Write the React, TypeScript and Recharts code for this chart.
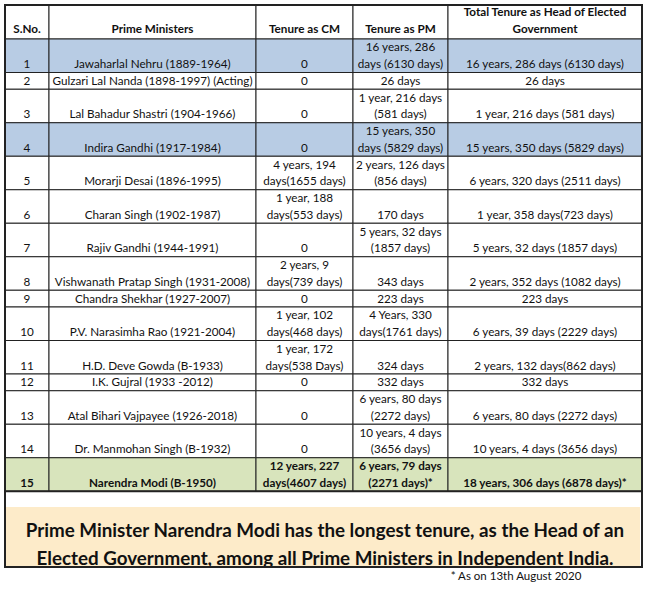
import React from 'react';
import { Surface, Layer, Rectangle, Text } from 'recharts';

// table content (a "\n" is the wrap point of the cell, as in the sheet)
const headers = ['S.No.', 'Prime Ministers', 'Tenure as CM', 'Tenure as PM', 'Total Tenure as Head of Elected\nGovernment'];

const serialNos = ['1', '2', '3', '4', '5', '6', '7', '8', '9', '10', '11', '12', '13', '14', '15'];

const primeMinisters = [
    'Jawaharlal Nehru (1889-1964)',
    'Gulzari Lal Nanda (1898-1997) (Acting)',
    'Lal Bahadur Shastri (1904-1966)',
    'Indira Gandhi (1917-1984)',
    'Morarji Desai (1896-1995)',
    'Charan Singh (1902-1987)',
    'Rajiv Gandhi (1944-1991)',
    'Vishwanath Pratap Singh (1931-2008)',
    'Chandra Shekhar (1927-2007)',
    'P.V. Narasimha Rao (1921-2004)',
    'H.D. Deve Gowda (B-1933)',
    'I.K. Gujral (1933 -2012)',
    'Atal Bihari Vajpayee (1926-2018)',
    'Dr. Manmohan Singh (B-1932)',
    'Narendra Modi (B-1950)',
];

const cmTenure = [
    '0', '0', '0', '0',
    '4 years, 194\ndays(1655 days)',
    '1 year, 188\ndays(553 days)',
    '0',
    '2 years, 9\ndays(739 days)',
    '0',
    '1 year, 102\ndays(468 days)',
    '1 year, 172\ndays(538 Days)',
    '0', '0', '0',
    '12 years, 227\ndays(4607 days)',
];

const pmTenure = [
    '16 years, 286\ndays (6130 days)',
    '26 days',
    '1 year, 216 days\n(581 days)',
    '15 years, 350\ndays (5829 days)',
    '2 years, 126 days\n(856 days)',
    '170 days',
    '5 years, 32 days\n(1857 days)',
    '343 days',
    '223 days',
    '4 Years, 330\ndays(1761 days)',
    '324 days',
    '332 days',
    '6 years, 80 days\n(2272 days)',
    '10 years, 4 days\n(3656 days)',
    '6 years, 79 days\n(2271 days)*',
];

const totalTenure = [
    '16 years, 286  days (6130 days)',
    '26 days',
    '1 year, 216 days (581 days)',
    '15 years, 350 days (5829 days)',
    '6 years, 320 days (2511 days)',
    '1 year, 358 days(723 days)',
    '5 years, 32 days (1857 days)',
    '2 years, 352 days (1082 days)',
    '223 days',
    '6 years, 39 days (2229 days)',
    '2 years, 132 days(862 days)',
    '332 days',
    '6 years, 80 days (2272 days)',
    '10 years, 4 days (3656 days)',
    '18 years, 306 days (6878 days)*',
];

const blueRows = [0, 3];
const greenRows = [14];

const noteLines = [
    'Prime Minister Narendra Modi has the longest tenure, as the Head of an',
    'Elected Government, among all Prime Ministers in Independent India.',
];
const footnote = '* As on 13th August 2020';

// layout
const W = 650;
const H = 590;
const COL_X = [5, 49, 256, 353, 448, 642];
const TOP = 5;
const HEADER_H = 34;
const LINE_H = 16.75;
const FONT = 'Lato, "Open Sans", sans-serif';
const BORDER = '#222';

const App: React.FC = () => {
    const rows = serialNos.map((s, i) => [s, primeMinisters[i], cmTenure[i], pmTenure[i], totalTenure[i]]);

    let y = TOP + HEADER_H;
    const rowBoxes = rows.map(cells => {
        const lines = Math.max(...cells.map(c => c.split('\n').length));
        const h = lines * LINE_H;
        const box = { y0: y, y1: y + h };
        y += h;
        return box;
    });
    const tableBottom = y;

    const renderCell = (text: string, col: number, bottom: number, bold: boolean, key: string, pad = 4.5) => {
        const lines = text.split('\n');
        const cx = (COL_X[col] + COL_X[col + 1]) / 2;
        return lines.map((ln, j) => (
            <Text
                key={`${key}-${j}`}
                x={cx}
                y={bottom - pad - (lines.length - 1 - j) * LINE_H}
                textAnchor="middle"
                verticalAnchor="end"
                fontFamily={FONT}
                fontSize={11.7}
                fontWeight={bold ? 700 : 400}
                fill="#111"
            >
                {ln}
            </Text>
        ));
    };

    return (
        <div style={{ position: 'absolute', left: 0, top: 0, width: W, height: H, background: '#fff' }}>
            <Surface width={W} height={H} viewBox={{ x: 0, y: 0, width: W, height: H }}>
                {/* header */}
                <Layer>
                    {headers.map((h, c) => (
                        <Rectangle key={`hb-${c}`} x={COL_X[c]} y={TOP} width={COL_X[c + 1] - COL_X[c]} height={HEADER_H}
                            fill="#fff" stroke={BORDER} strokeWidth={1} />
                    ))}
                    {headers.map((h, c) => renderCell(h, c, TOP + HEADER_H, true, `h-${c}`, 6))}
                </Layer>

                {/* body */}
                <Layer>
                    {rows.map((cells, i) => {
                        const fill = blueRows.includes(i) ? '#b8cce4' : greenRows.includes(i) ? '#d8e4bc' : '#fff';
                        return cells.map((_, c) => (
                            <Rectangle key={`b-${i}-${c}`} x={COL_X[c]} y={rowBoxes[i].y0} width={COL_X[c + 1] - COL_X[c]}
                                height={rowBoxes[i].y1 - rowBoxes[i].y0} fill={fill} stroke={BORDER} strokeWidth={1} />
                        ));
                    })}
                    {rows.map((cells, i) =>
                        cells.map((t, c) => renderCell(t, c, rowBoxes[i].y1, greenRows.includes(i), `t-${i}-${c}`))
                    )}
                    <Rectangle x={COL_X[0]} y={tableBottom - 1} width={COL_X[5] - COL_X[0]} height={2} fill={BORDER} />
                </Layer>

                {/* note */}
                <Layer>
                    <Rectangle x={COL_X[0] + 1} y={507} width={634} height={60} fill="#fdebc9" />
                    {noteLines.map((ln, j) => (
                        <Text key={`n-${j}`} x={325} y={537 + j * 28} textAnchor="middle" verticalAnchor="end"
                            fontFamily={FONT} fontSize={18.8} fontWeight={700} fill="#111">
                            {ln}
                        </Text>
                    ))}
                    <Rectangle x={COL_X[0]} y={TOP} width={COL_X[5] - COL_X[0]} height={567 - TOP}
                        fill="none" stroke={BORDER} strokeWidth={2} />
                    <Text x={516} y={580} textAnchor="middle" verticalAnchor="end" fontFamily={FONT} fontSize={11.5} fill="#111">
                        {footnote}
                    </Text>
                </Layer>
            </Surface>
        </div>
    );
};

export default App;
